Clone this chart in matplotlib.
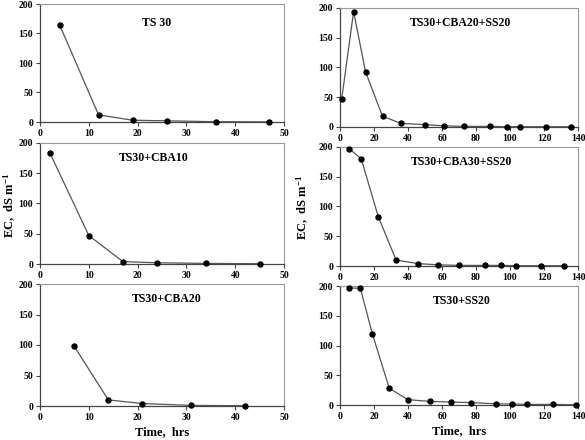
import matplotlib
matplotlib.use("Agg")
import matplotlib.pyplot as plt

plt.rcParams['font.family'] = ['Liberation Serif', 'DejaVu Serif']
plt.rcParams['font.weight'] = 'bold'
plt.rcParams['mathtext.fontset'] = 'custom'
plt.rcParams['mathtext.rm'] = 'Liberation Serif:bold'
plt.rcParams['mathtext.bf'] = 'Liberation Serif:bold'
plt.rcParams['mathtext.default'] = 'bf'

# Data
ts30_x = [4, 12, 19, 26, 36, 47]
ts30_y = [165, 12, 3, 2, 0.5, 0.3]

cba10_x = [2, 10, 17, 24, 34, 45]
cba10_y = [184, 47, 4, 2, 1, 0.5]

cba20_x = [7, 14, 21, 31, 42]
cba20_y = [98, 10, 4, 1, 0.5]

cba20ss_x = [1, 8, 15, 25, 36, 50, 61, 73, 88, 98, 106, 121, 136]
cba20ss_y = [47, 194, 93, 18, 6, 4, 2, 1, 1, 0.5, 0.5, 0.5, 0.5]

cba30ss_x = [5.5, 12.5, 22.5, 33, 46, 57.5, 70, 85, 94.5, 103.5, 118, 132]
cba30ss_y = [197, 180, 83, 10, 4, 2, 1, 1, 1, 0.5, 0.5, 0.5]

ss20_x = [5, 12, 19, 29, 40, 53, 65, 77, 92, 101, 110, 125, 139]
ss20_y = [197, 196, 120, 28, 9, 6, 5, 4, 2, 1.5, 1, 1, 0.5]

titles = ["TS 30", "TS30+CBA10", "TS30+CBA20",
          "TS30+CBA20+SS20", "TS30+CBA30+SS20", "TS30+SS20"]
left_xticks = [0, 10, 20, 30, 40, 50]
right_xticks = [0, 20, 40, 60, 80, 100, 120, 140]
yticks = [0, 50, 100, 150, 200]

W, H = 585, 440
fig = plt.figure(figsize=(W / 100, H / 100), dpi=100)

def rect(x0, x1, ytop, ybot):
    return [x0 / W, 1 - ybot / H, (x1 - x0) / W, (ybot - ytop) / H]

panels = [
    (rect(40, 284, 4, 122), ts30_x, ts30_y, titles[0], 50, left_xticks, (0.48, 0.84)),
    (rect(40, 284, 143, 264), cba10_x, cba10_y, titles[1], 50, left_xticks, (0.465, 0.876)),
    (rect(40, 284, 284, 406), cba20_x, cba20_y, titles[2], 50, left_xticks, (0.52, 0.877)),
    (rect(340, 578, 8, 127), cba20ss_x, cba20ss_y, titles[3], 140, right_xticks, (0.505, 0.874)),
    (rect(340, 578, 147, 266), cba30ss_x, cba30ss_y, titles[4], 140, right_xticks, (0.51, 0.876)),
    (rect(340, 578, 286, 405), ss20_x, ss20_y, titles[5], 140, right_xticks, (0.51, 0.874)),
]

for r, xs, ys, title, xmax, xt, tpos in panels:
    ax = fig.add_axes(r)
    ax.plot(xs, ys, color='#555555', lw=0.9, marker='o', markersize=3.6,
            markerfacecolor='black', markeredgecolor='black', clip_on=False, zorder=3)
    ax.set_xlim(0, xmax)
    ax.set_ylim(0, 200)
    ax.set_xticks(xt)
    ax.set_yticks(yticks)
    ax.tick_params(axis='both', direction='out', length=3, width=0.8,
                   labelsize=7, pad=2, color='#444444')
    for lab in ax.get_xticklabels() + ax.get_yticklabels():
        lab.set_fontweight('bold')
    for s in ['left', 'bottom']:
        ax.spines[s].set_color('#444444')
        ax.spines[s].set_linewidth(0.9)
    for s in ['top', 'right']:
        ax.spines[s].set_color('#999999')
        ax.spines[s].set_linewidth(0.8)
    ax.text(tpos[0], tpos[1], title, transform=ax.transAxes, ha='center', va='center',
            fontsize=8.5, fontweight='bold')

ylab = "EC,  dS m$^{-1}$"
fig.text(10 / W, 1 - 205 / H, ylab, rotation=90, ha='center', va='center',
         fontsize=9, fontweight='bold')
fig.text(303 / W, 1 - 207 / H, ylab, rotation=90, ha='center', va='center',
         fontsize=9, fontweight='bold')
fig.text(162 / W, 1 - 432 / H, "Time,  hrs", ha='center', va='center', fontsize=9, fontweight='bold')
fig.text(459 / W, 1 - 431 / H, "Time,  hrs", ha='center', va='center', fontsize=9, fontweight='bold')

fig.savefig("out.png", dpi=100)
